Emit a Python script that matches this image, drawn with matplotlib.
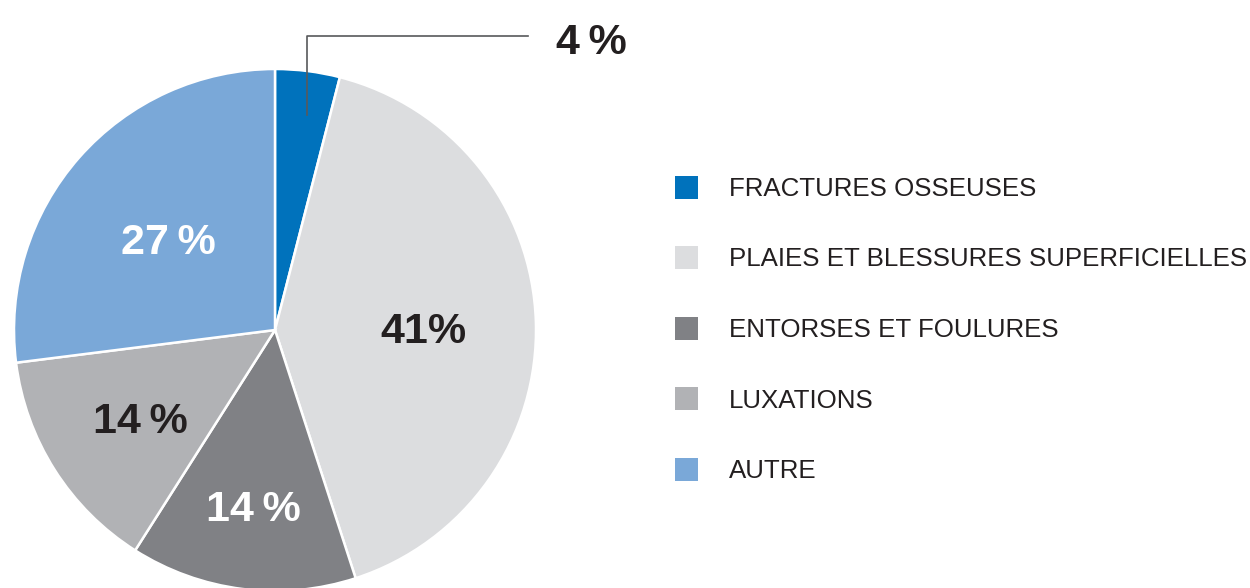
import numpy as np
import matplotlib
matplotlib.use("Agg")
import matplotlib.pyplot as plt
from matplotlib.patches import Rectangle

plt.rcParams['font.family'] = ['Liberation Sans Narrow', 'Liberation Sans', 'DejaVu Sans']

# data
categories = ["FRACTURES OSSEUSES", "PLAIES ET BLESSURES SUPERFICIELLES",
              "ENTORSES ET FOULURES", "LUXATIONS", "AUTRE"]
shares = [4, 41, 14, 14, 27]
pct_labels = ["4\u2009%", "41%", "14\u2009%", "14\u2009%", "27\u2009%"]
colors = ["#0072BC", "#DCDDDF", "#808185", "#B1B2B5", "#7AA8D8"]
label_colors = ["#231F20", "#231F20", "white", "#231F20", "white"]
label_radius = [None, 0.57, 0.67, 0.61, 0.545]

W, H = 1250, 588
fig = plt.figure(figsize=(W / 100, H / 100), dpi=100)
ax = fig.add_axes([0, 0, 1, 1])

cx, cy, R = 275, H - 330, 261
wedges, _ = ax.pie(shares, colors=colors, startangle=90, counterclock=False,
                   center=(cx, cy), radius=R, frame=True,
                   wedgeprops=dict(edgecolor='white', linewidth=1.8))
ax.set_xlim(0, W)
ax.set_ylim(0, H)
ax.set_aspect('equal')
ax.axis('off')

# percentage labels inside the slices
for w, lab, col, rf in zip(wedges, pct_labels, label_colors, label_radius):
    if rf is None:
        continue
    mid = np.deg2rad((w.theta1 + w.theta2) / 2)
    ax.text(cx + rf * R * np.cos(mid), cy + rf * R * np.sin(mid) - 7, lab,
            color=col, fontsize=31, fontweight='bold', ha='center', va='center')

# leader line for the small slice
lx = cx + 32
ly_bottom = H - 115
ly_top = H - 36
ax.plot([lx, lx, 528], [ly_bottom, ly_top, ly_top], color='#58595B', lw=1.2)
ax.text(591, H - 43, pct_labels[0], color='#231F20', fontsize=31,
        fontweight='bold', ha='center', va='center')

# legend
for i, (cat, col) in enumerate(zip(categories, colors)):
    yc = H - (187 + i * 70.5)
    ax.add_patch(Rectangle((675, yc - 11.5), 23, 23, color=col, lw=0))
    ax.text(729, yc - 2, cat, color='#231F20', fontsize=18.6, ha='left', va='center')

fig.savefig("out.png", dpi=100)
